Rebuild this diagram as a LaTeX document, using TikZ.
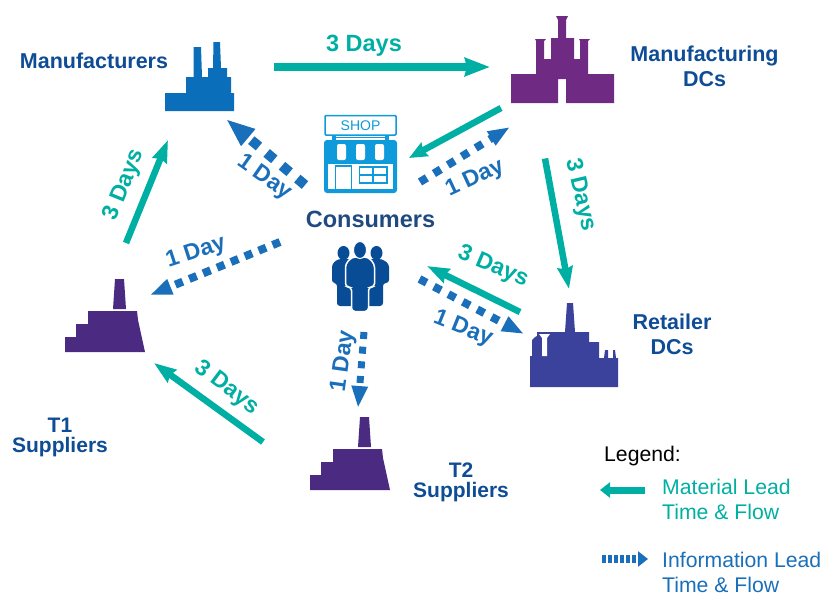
\documentclass[tikz,border=0pt]{standalone}
\usepackage{fontspec}
\setmainfont{Liberation Sans}
\usetikzlibrary{arrows.meta}
\usetikzlibrary{positioning}
\definecolor{matteal}{HTML}{00AFA3}
\definecolor{infoblue}{HTML}{1A6FBA}
\definecolor{namblue}{HTML}{0F4C96}
\definecolor{consblue}{HTML}{1F4A80}
\definecolor{crowdblue}{HTML}{084C96}
\definecolor{mfrblue}{HTML}{0A6EBB}
\definecolor{dcpurple}{HTML}{6F2A83}
\definecolor{retindigo}{HTML}{3A429B}
\definecolor{suppurple}{HTML}{4B2A82}
\definecolor{shopblue}{HTML}{0E9ADB}
\tikzset{
    iconbox/.style={
           rectangle,
           inner sep=0pt,
           },
    party/.style={
           font=\fontsize{21.5}{25}\selectfont\bfseries,
           text=namblue,
           align=center,
           inner sep=0pt,
           },
    matday/.style={
           font=\fontsize{23}{26}\selectfont\bfseries,
           text=matteal,
           inner sep=0pt,
           },
    infoday/.style={
           font=\fontsize{23}{26}\selectfont\bfseries,
           text=infoblue,
           inner sep=0pt,
           },
    material/.style={
           draw=matteal,
           line width=6.5pt,
           -{Stealth[length=#1,width=15pt,inset=2pt]},
           },
    material/.default=22pt,
    information/.style={
           draw=infoblue,
           line width=8pt,
           dash pattern=on 8pt off 8.3pt,
           -{Triangle[length=22pt,width=15pt]},
           },
    legendtext/.style={
           font=\fontsize{21.2}{25}\selectfont,
           align=left,
           anchor=north west,
           inner sep=0pt,
           },
    supplier/.pic={
           \fill[suppurple] (115,279) -- (124,279) -- (126,309) -- (113,309) -- cycle;
           \fill[suppurple] (65,352) -- (65,337) -- (76,337) -- (76,324) -- (88,324)
                -- (88,311) -- (137,311) -- (138,320) -- (145,352) -- cycle;
           },
}

\begin{document}
\begin{tikzpicture}[x=1pt,y=-1pt]
  \useasboundingbox (0,0) rectangle (834,597);

  % the parties, one box round each icon
  \node[iconbox,minimum width=69pt,minimum height=69pt] (MFR) at (199.5,76.5) {};
  \node[iconbox,minimum width=103pt,minimum height=87pt] (MDC) at (562.5,59.5) {};
  \node[iconbox,minimum width=73pt,minimum height=78pt] (SHOP) at (360.5,154) {};
  \node[iconbox,minimum width=58pt,minimum height=65pt] (PEOPLE) at (360.5,277) {};
  \node[iconbox,minimum width=88pt,minimum height=84pt] (RDC) at (574,345) {};
  \node[iconbox,minimum width=80pt,minimum height=73pt] (TONE) at (105,315.5) {};
  \node[iconbox,minimum width=80pt,minimum height=73pt] (TTWO) at (350,453.5) {};

  % factory
  \fill[mfrblue] (165,111) -- (165,93) -- (186,93) -- (186,77) -- (193.5,77) -- (193.5,47)
     -- (201,47) -- (202,77) -- (208,77) -- (208,68) -- (213,68) -- (213.5,42) -- (220,42)
     -- (221,68) -- (227,68) -- (227,77) -- (231,77) -- (231,93) -- (234,93) -- (234,111) -- cycle;

  % castle
  \fill[dcpurple] (511,103) -- (511,74) -- (536,74) -- (536,41) -- (535,39) -- (546,39)
     -- (544,41) -- (544,59) -- (551,59) -- (551,38) -- (558,38) -- (558,20) -- (556,16)
     -- (568,16) -- (566,20) -- (566,38) -- (574,38) -- (574,59) -- (580,59) -- (580,41)
     -- (579,39) -- (590,39) -- (588,41) -- (588,74) -- (614,74) -- (614,103) -- (566,103)
     -- (566,79) -- (558,79) -- (558,103) -- cycle;

  % refinery
  \fill[retindigo] (530,387) -- (530,356) -- (532,356) -- (532,340) -- (535,337) -- (537,336)
     -- (537,332) -- (565,332) -- (567,303) -- (573,303) -- (575,332) -- (589,332) -- (589,342)
     -- (599,342) -- (599,358) -- (604,358) -- (605,350) -- (608,350) -- (608,358) -- (613,358)
     -- (613,350) -- (615,350) -- (616,358) -- (618,358) -- (618,387) -- cycle;
  \fill[white] (539,334) -- (550,334) -- (547,338) -- (547,356) -- (542,356) -- (542,338) -- cycle;

  % T1 and T2 plants
  \pic at (0,0) {supplier};
  \pic at (245,138) {supplier};

  % shop
  \draw[shopblue,line width=1.5pt,rounded corners=1pt] (325,115.5) rectangle (396,135);
  \fill[shopblue] (332,135) rectangle (336,141);
  \fill[shopblue] (385,135) rectangle (389,141);
  \fill[shopblue] (332,136.5) rectangle (389,138);
  \fill[shopblue,rounded corners=3pt] (324,140) rectangle (397,193);
  \fill[white] (328,164) rectangle (393,189);
  \foreach \sx in {328,337.3,346.6,355.9,365.2,374.5,383.8}
     \fill[shopblue] (\sx,161) -- (\sx+9.3,161) arc (0:-180:4.65pt and 3pt) -- cycle;
  \foreach \sx in {337,356,375}
     \fill[white,rounded corners=2pt] (\sx,144) rectangle (\sx+9,160);
  \draw[shopblue,line width=1.5pt] (335.5,166) rectangle (351.5,190);
  \draw[shopblue,line width=1.5pt] (359.5,167) rectangle (387,183);
  \draw[shopblue,line width=1.5pt] (373,167) -- (373,183) (359.5,175) -- (387,175);
  \node[inner sep=0pt,font=\fontsize{14}{15}\selectfont,text=shopblue] (SHOPSIGN) at (360.5,125.5) {SHOP};

  % crowd
  \fill[crowdblue] (343.5,253) ellipse (6pt and 7pt);
  \fill[crowdblue] (376.5,253) ellipse (6pt and 7pt);
  \fill[crowdblue,rounded corners=3pt] (338,259) -- (332,264) -- (332,283) -- (337,283) -- (337,306)
     -- (383,306) -- (383,283) -- (389,283) -- (389,264) -- (382,259) -- cycle;
  \fill[crowdblue,draw=white,line width=1.5pt,rounded corners=3.5pt] (352,257) -- (345.5,264) -- (345.5,287) -- (351.5,287)
     -- (351.5,311.5) -- (368.5,311.5) -- (368.5,287) -- (374.5,287) -- (374.5,264) -- (368,257) -- cycle;
  \fill[crowdblue,draw=white,line width=1pt] (360,250) ellipse (6.5pt and 8.5pt);

  % names
  \node[party] (MFRTXT) at (94,61) {Manufacturers};
  \node[party] (MDCTXT) at (704.5,66.5) {Manufacturing\\DCs};
  \node[party,font=\fontsize{23.5}{26}\selectfont\bfseries,text=consblue] (CONSTXT) at (370.5,219) {Consumers};
  \node[party] (RDCTXT) at (672,334.5) {Retailer\\DCs};
  \node[party,font=\fontsize{21}{20}\selectfont\bfseries] (TONETXT) at (60,437) {T1\\Suppliers};
  \node[party,font=\fontsize{21}{20}\selectfont\bfseries] (TTWOTXT) at (461,482) {T2\\Suppliers};

  % lead times
  \node[matday,font=\fontsize{23.5}{26}\selectfont\bfseries] (DAYSA) at (364,46) {3 Days};
  \node[matday,rotate=-77] (DAYSB) at (580,195) {3 Days};
  \node[matday,rotate=-23] (DAYSC) at (493,267) {3 Days};
  \node[matday,rotate=-37] (DAYSD) at (227,388) {3 Days};
  \node[matday,rotate=68] (DAYSE) at (124.5,185) {3 Days};
  \node[infoday,rotate=-35] (DAYF) at (264.5,178) {1 Day};
  \node[infoday,rotate=25] (DAYG) at (475,179) {1 Day};
  \node[infoday,rotate=-22] (DAYH) at (463,329) {1 Day};
  \node[infoday,rotate=82] (DAYI) at (343.5,361) {1 Day};
  \node[infoday,rotate=18] (DAYJ) at (196,252.5) {1 Day};

  % legend
  \node[legendtext,text=black] (LEGEND) at (604,446) {Legend:};
  \node[legendtext,text=matteal] (LEGMAT) at (662,479) {Material Lead\\Time \& Flow};
  \node[legendtext,text=infoblue] (LEGINFO) at (662,552) {Information Lead\\Time \& Flow};

  % draw the flows
  \path
  ([shift={(74.5,-9.5)}]MFR.center) edge[material,line width=8pt,-{Stealth[length=25pt,width=18pt,inset=2pt]}] ([shift={(-72.5,7.5)}]MDC.center)
  ([shift={(-61.5,48.5)}]MDC.center) edge[material=18pt] ([shift={(48.5,4)}]SHOP.center)
  ([shift={(-17.5,99)}]MDC.center) edge[material] ([shift={(-5,-56)}]RDC.center)
  ([shift={(-54,-33)}]RDC.center) edge[material] ([shift={(66.5,-11)}]PEOPLE.center)
  ([shift={(-87,-11.5)}]TTWO.center) edge[material] ([shift={(49,47.5)}]TONE.center)
  ([shift={(21,-72.5)}]TONE.center) edge[material] ([shift={(-31.5,63.5)}]MFR.center)
  ([shift={(-55.5,31)}]SHOP.center) edge[information,line width=10pt,dash pattern=on 10pt off 10pt,-{Triangle[length=29pt,width=20pt]}] ([shift={(26.5,42.5)}]MFR.center)
  ([shift={(59.5,28)}]SHOP.center) edge[information] ([shift={(-52.5,67.5)}]MDC.center)
  ([shift={(59,2)}]PEOPLE.center) edge[information] ([shift={(-50,-11)}]RDC.center)
  ([shift={(3.5,55)}]PEOPLE.center) edge[information,line width=7pt,dash pattern=on 7pt off 7.7pt] ([shift={(8,-45.5)}]TTWO.center)
  ([shift={(-80.5,-35)}]PEOPLE.center) edge[information,dash pattern=on 8pt off 7pt] ([shift={(45,-20.5)}]TONE.center)
  ;

  % legend keys
  \path
  ([shift={(-17,11)}]LEGMAT.north west) edge[draw=matteal,line width=7pt,-{Triangle[length=10pt,width=15pt]}] ([shift={(-62,11)}]LEGMAT.north west)
  ([shift={(-60,7)}]LEGINFO.north west) edge[draw=infoblue,line width=8pt,dash pattern=on 3.5pt off 2.5pt,-{Triangle[length=10pt,width=15pt]}] ([shift={(-14,7)}]LEGINFO.north west)
  ;
\end{tikzpicture}
\end{document}
